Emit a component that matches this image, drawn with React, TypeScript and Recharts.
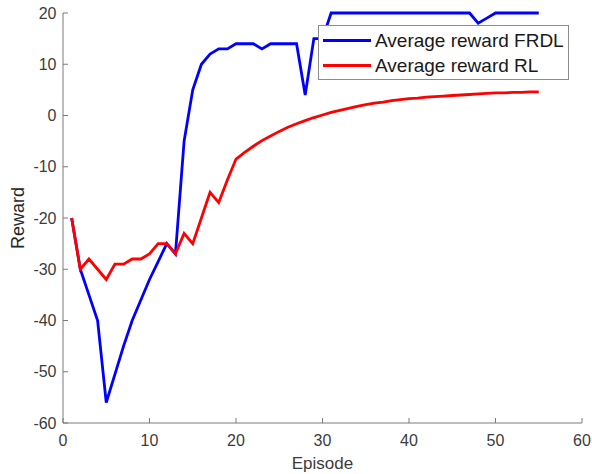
import React from 'react';
import { LineChart, Line, XAxis, YAxis, Legend } from 'recharts';

const episodes = [
  1, 2, 3, 4, 5, 6, 7, 8, 9, 10, 11, 12, 13, 14, 15, 16, 17, 18, 19, 20,
  21, 22, 23, 24, 25, 26, 27, 28, 29, 30, 31, 32, 33, 34, 35, 36, 37, 38, 39, 40,
  41, 42, 43, 44, 45, 46, 47, 48, 49, 50, 51, 52, 53, 54, 55,
];

const rewardFRDL = [
  -20, -30, -35, -40, -56, -50.5, -45, -40, -36, -32, -28.5, -25, -27, -5, 5, 10, 12, 13, 13, 14,
  14, 14, 13, 14, 14, 14, 14, 4, 15, 15, 20, 20, 20, 20, 20, 20, 20, 20, 20, 20,
  20, 20, 20, 20, 20, 20, 20, 18, 19, 20, 20, 20, 20, 20, 20,
];

const rewardRL = [
  -20, -30, -28, -30, -32, -29, -29, -28, -28, -27, -25, -25, -27, -23, -25, -20, -15, -17, -12.6, -8.5,
  -7.2, -6.0, -4.9, -4.0, -3.1, -2.3, -1.6, -1.0, -0.4, 0.1, 0.6, 1.0, 1.4, 1.8, 2.1, 2.4, 2.6, 2.9, 3.1, 3.3,
  3.4, 3.6, 3.7, 3.8, 3.9, 4.0, 4.1, 4.2, 4.3, 4.4, 4.4, 4.5, 4.5, 4.6, 4.6,
];

const xTicks = [0, 10, 20, 30, 40, 50, 60];
const yTicks = [-60, -50, -40, -30, -20, -10, 0, 10, 20];

const seriesNames = ['Average reward FRDL', 'Average reward RL'];

const data = episodes.map((ep, i) => ({
  episode: ep,
  frdl: rewardFRDL[i],
  rl: rewardRL[i],
}));

const FONT = '"Liberation Sans", Arial, Helvetica, sans-serif';
const AXIS_COLOR = '#7a7a7a';
const TICK_TEXT = '#3c3c3c';

const LegendBox = (props: any) => {
  const payload = props.payload || [];
  return (
    <div
      style={{
        boxSizing: 'border-box',
        width: 251,
        height: 55,
        background: '#ffffff',
        border: '1px solid #8c8c8c',
        fontFamily: FONT,
        fontSize: 19,
        color: '#1a1a1a',
        paddingTop: 2,
      }}
    >
      {payload.map((entry: any, i: number) => (
        <div
          key={i}
          style={{ display: 'flex', alignItems: 'center', height: 25, whiteSpace: 'nowrap' }}
        >
          <svg width={56} height={25} style={{ display: 'block', flex: 'none' }}>
            <line x1={4} x2={52} y1={12.5} y2={12.5} stroke={entry.color} strokeWidth={2.8} />
          </svg>
          <span style={{ lineHeight: '25px' }}>{entry.value}</span>
        </div>
      ))}
    </div>
  );
};

export default function App() {
  return (
    <div style={{ position: 'absolute', left: 0, top: 0, width: 592, height: 474, background: '#fff' }}>
      <LineChart
        width={592}
        height={474}
        data={data}
        margin={{ top: 13, right: 10, left: 0, bottom: 0 }}
        style={{ fontFamily: FONT }}
      >
        <XAxis
          dataKey="episode"
          type="number"
          domain={[0, 60]}
          ticks={xTicks}
          height={51}
          tickSize={-5}
          tickMargin={17}
          axisLine={{ stroke: AXIS_COLOR, strokeWidth: 1 }}
          tickLine={{ stroke: AXIS_COLOR, strokeWidth: 1 }}
          tick={{ fill: TICK_TEXT, fontSize: 16, fontFamily: FONT }}
          label={{ value: 'Episode', position: 'insideBottom', offset: 5, fill: TICK_TEXT, fontSize: 17, fontFamily: FONT }}
        />
        <YAxis
          type="number"
          domain={[-60, 20]}
          ticks={yTicks}
          width={63}
          tickSize={-5}
          tickMargin={11.5}
          axisLine={{ stroke: AXIS_COLOR, strokeWidth: 1 }}
          tickLine={{ stroke: AXIS_COLOR, strokeWidth: 1 }}
          tick={{ fill: TICK_TEXT, fontSize: 16, fontFamily: FONT }}
          label={{
            value: 'Reward',
            angle: -90,
            position: 'insideLeft',
            offset: 18,
            fill: '#262626',
            fontSize: 18,
            fontFamily: FONT,
            style: { textAnchor: 'middle' },
          }}
        />
        <Line
          type="linear"
          dataKey="frdl"
          name={seriesNames[0]}
          stroke="#0000ff"
          strokeWidth={2.8}
          dot={false}
          isAnimationActive={false}
        />
        <Line
          type="linear"
          dataKey="rl"
          name={seriesNames[1]}
          stroke="#ff0000"
          strokeWidth={2.8}
          dot={false}
          isAnimationActive={false}
        />
        <Legend
          layout="vertical"
          align="center"
          verticalAlign="middle"
          content={LegendBox}
          wrapperStyle={{ position: 'absolute', left: 318, top: 25, width: 251, height: 55, right: 'auto', bottom: 'auto' }}
        />
      </LineChart>
    </div>
  );
}
